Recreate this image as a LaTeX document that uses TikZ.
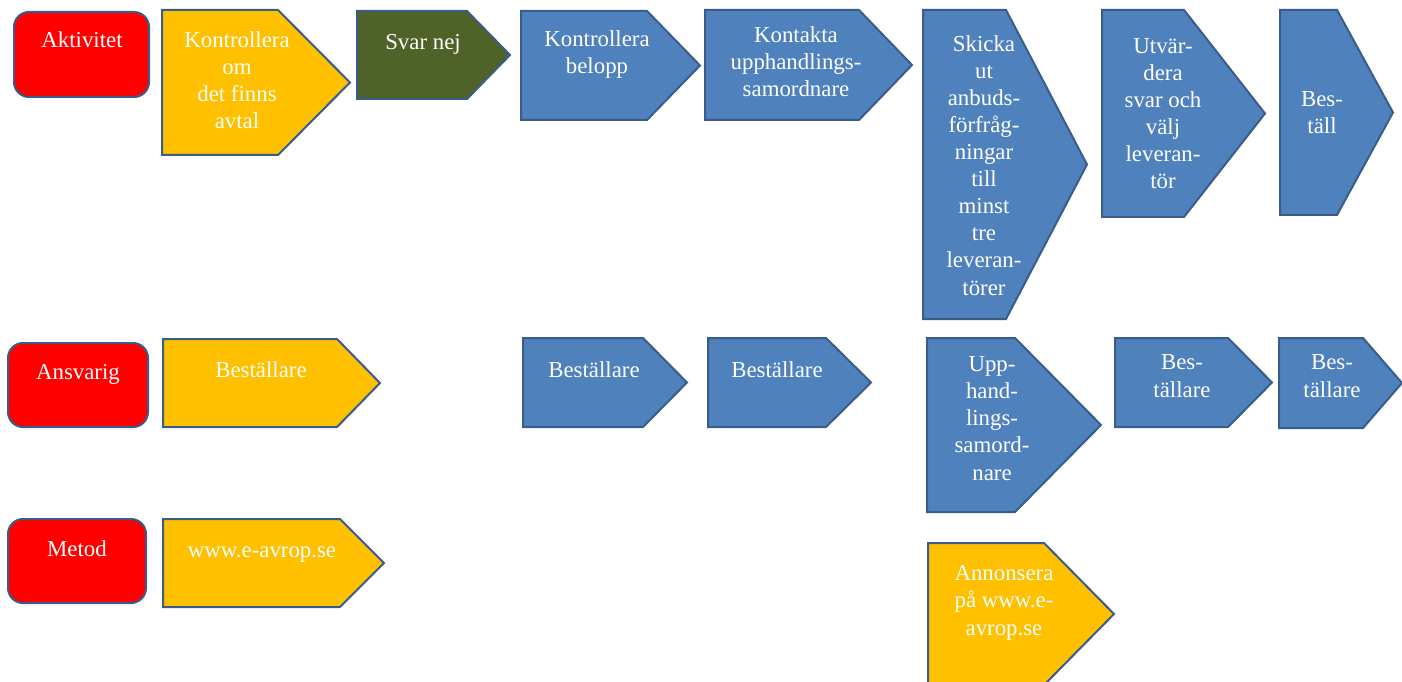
\documentclass[tikz,border=0pt]{standalone}
\usepackage{fontspec}
\setmainfont{Liberation Serif}
\usetikzlibrary{positioning}
\definecolor{rubrikrod}{RGB}{255,0,0}
\definecolor{avtalgul}{RGB}{255,192,0}
\definecolor{nejgron}{RGB}{79,98,40}
\definecolor{stegbla}{RGB}{79,129,189}
\definecolor{kantbla}{RGB}{56,93,138}
\tikzset{
	kant/.style = {
			draw       = kantbla,
			line width = 0.04cm,
			line join  = miter,
		},
	rubrik/.style = {
			kant,
			fill            = rubrikrod,
			rounded corners = 0.3cm,
		},
	etikett/.style = {
			text       = white,
			font       = \fontsize{13}{15.4}\selectfont,
			align      = center,
			anchor     = base,
			inner sep  = 0pt,
		}
}
% pil: namn, farg, x1, y1, spetsstart, spets, y2, sista baslinjen, text
\newcommand{\pil}[9]{%
	\draw[kant, fill=#2] (#3,#4) -- (#5,#4) -- (#6,{(#4+#7)/2})
	-- (#5,#7) -- (#3,#7) -- cycle;
	\node[etikett] (#1) at (#8) {#9};
}

\begin{document}
\begin{tikzpicture}[x=0.02cm, y=-0.02cm]
	\useasboundingbox (0,0) rectangle (1402,682);
	\clip (0,0) rectangle (1402,682);

	% rubriker till vanster
	\draw[rubrik] (14,12) rectangle (149,97);
	\node[etikett] (aktivitet) at (82,48) {Aktivitet};
	\draw[rubrik] (8,343) rectangle (148,427);
	\node[etikett] (ansvarig) at (78,379) {Ansvarig};
	\draw[rubrik] (8,519) rectangle (146,603);
	\node[etikett] (metod) at (77,556) {Metod};

	% aktivitet
	\pil{avtal}{avtalgul}{162}{10}{278}{350}{155}{237,129}{Kontrollera\\om\\det finns\\avtal}
	\pil{nej}{nejgron}{357}{11}{467}{510}{99}{423,50}{Svar nej}
	\pil{belopp}{stegbla}{521}{11}{647}{700}{120}{597,74}{Kontrollera\\belopp}
	\pil{kontakta}{stegbla}{705}{10}{859}{912}{120}{796,97}{Kontakta\\upphandlings-\\samordnare}
	\pil{skicka}{stegbla}{923}{10}{1006}{1087}{319}{984,295}{Skicka\\ut\\anbuds-\\förfråg-\\ningar\\till\\minst\\tre\\leveran-\\törer}
	\pil{utvardera}{stegbla}{1102}{10}{1184}{1265}{217}{1163,189}{Utvär-\\dera\\svar och\\välj\\leveran-\\tör}
	\pil{bestall}{stegbla}{1280}{10}{1337}{1393}{215}{1322,134}{Bes-\\täll}

	% ansvarig
	\pil{bestA}{avtalgul}{163}{339}{337}{380}{427}{261,377}{Beställare}
	\pil{bestB}{stegbla}{523}{338}{643}{687}{427}{594,377}{Beställare}
	\pil{bestC}{stegbla}{708}{338}{826}{871}{427}{777,377}{Beställare}
	\pil{samord}{stegbla}{927}{338}{1015}{1101}{512}{992,480}{Upp-\\hand-\\lings-\\samord-\\nare}
	\pil{bestD}{stegbla}{1115}{338}{1228}{1272}{427}{1182,397}{Bes-\\tällare}
	\pil{bestE}{stegbla}{1279}{338}{1363}{1402}{428}{1332,397}{Bes-\\tällare}

	% metod
	\pil{avrop}{avtalgul}{163}{519}{340}{384}{607}{262,557}{www.e-avrop.se}
	\pil{annons}{avtalgul}{928}{543}{1044}{1114}{685}{1004,635}{Annonsera\\på www.e-\\avrop.se}
\end{tikzpicture}
\end{document}
